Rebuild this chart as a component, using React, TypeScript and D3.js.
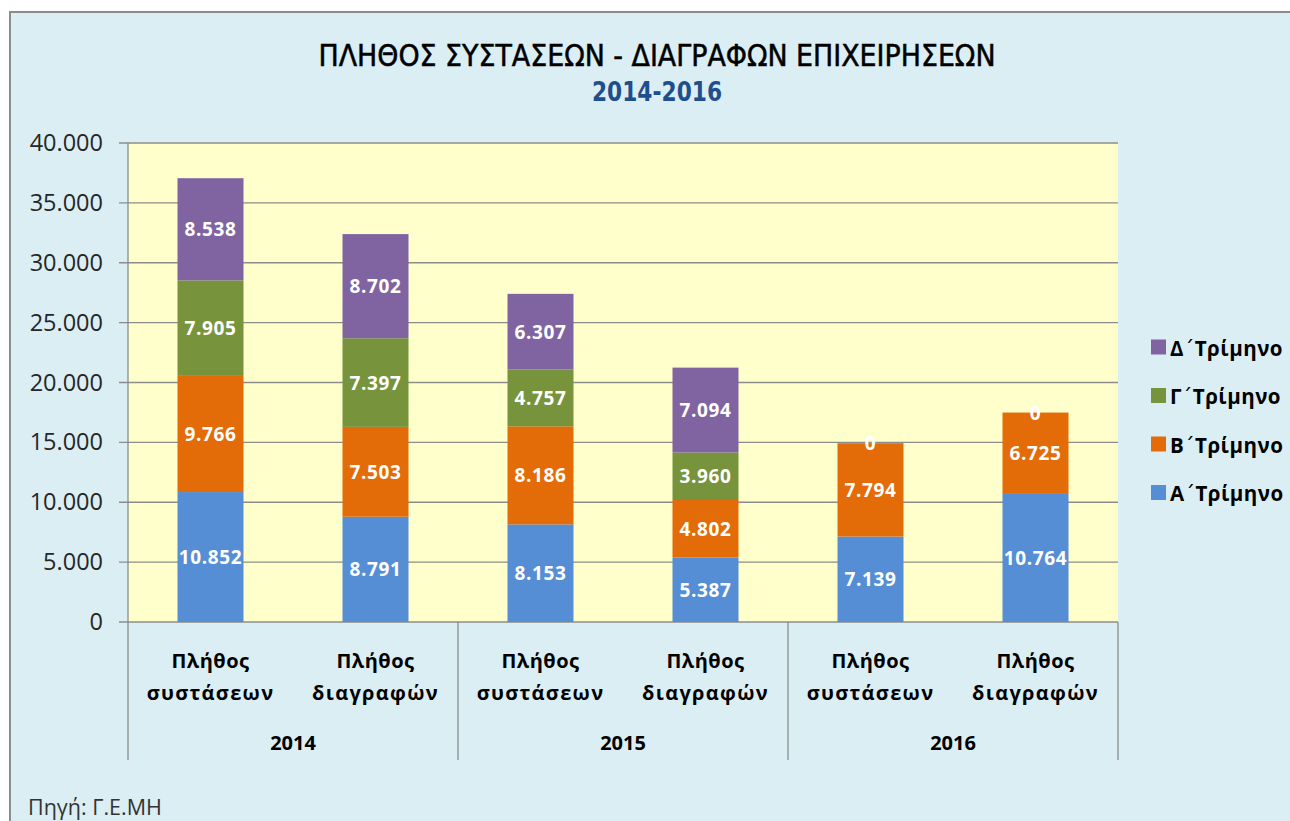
import React from "react";
import * as d3 from "d3";

const categories = ["Πλήθος συστάσεων", "Πλήθος διαγραφών", "Πλήθος συστάσεων", "Πλήθος διαγραφών", "Πλήθος συστάσεων", "Πλήθος διαγραφών"];
const years = ["2014", "2015", "2016"];
const seriesLetters = ["Α", "Β", "Γ", "Δ"];
const qA = [10852, 8791, 8153, 5387, 7139, 10764];
const qB = [9766, 7503, 8186, 4802, 7794, 6725];
const qC = [7905, 7397, 4757, 3960, 0, 0];
const qD: (number | null)[] = [8538, 8702, 6307, 7094, null, null];
const yTicks = [0, 5000, 10000, 15000, 20000, 25000, 30000, 35000, 40000];
const colors = ["#558ED5", "#E36C09", "#77933C", "#8064A2"];

const fmt = (v: number) => d3.format(",")(v).replace(/,/g, ".");

export default function App() {
  const W = 1290, H = 821;
  const left = 128, right = 1118, top = 143, bottom = 622;
  const y = d3.scaleLinear().domain([0, 40000]).range([bottom, top]);
  const x = d3.scaleBand().domain(d3.range(categories.length).map(String)).range([left, right]).paddingInner(0.6).paddingOuter(0.3);
  const groupW = (right - left) / years.length;
  const series = [qA, qB, qC, qD];
  const font = "'Open Sans', 'Noto Sans', sans-serif";
  const narrow = "'Liberation Sans Narrow', 'DejaVu Sans Condensed', sans-serif";

  const segs: any[] = [];
  categories.forEach((_, i) => {
    let base = 0;
    series.forEach((s, k) => {
      const v = s[i];
      if (v === null || v === undefined) return;
      segs.push({ i, k, y0: base, y1: base + v, v });
      base += v;
    });
  });

  return (
    <div style={{ position: "absolute", left: 0, top: 0 }}>
      <svg width={W} height={H} style={{ display: "block" }}>
        <rect x={0} y={0} width={W} height={H} fill="#ffffff" />
        <rect x={10} y={12} width={W + 20} height={H + 20} fill="#DBEEF4" stroke="#8C8C8C" strokeWidth={2} />
        <text x={657} y={66} textAnchor="middle" fontFamily={narrow} fontWeight="normal" fontSize={30} fill="#000" stroke="#000" strokeWidth={0.5} textLength={677} lengthAdjust="spacingAndGlyphs">ΠΛΗΘΟΣ ΣΥΣΤΑΣΕΩΝ - ΔΙΑΓΡΑΦΩΝ ΕΠΙΧΕΙΡΗΣΕΩΝ</text>
        <text x={657} y={101} textAnchor="middle" fontFamily={narrow} fontWeight="bold" fontSize={27} fill="#1F4E8C" textLength={130} lengthAdjust="spacingAndGlyphs">2014-2016</text>

        <rect x={left} y={top} width={right - left} height={bottom - top} fill="#FFFFCC" />
        {yTicks.map((t) => (
          <g key={t}>
            <line x1={left - 9} x2={right} y1={y(t)} y2={y(t)} stroke="#8C8C8C" strokeWidth={1.3} />
            <text x={103} y={y(t) + 8} textAnchor="end" fontFamily={font} fontSize={23.5} fill="#262626">{fmt(t)}</text>
          </g>
        ))}
        <line x1={left} x2={left} y1={top} y2={760} stroke="#8C8C8C" strokeWidth={1.3} />
        {years.map((yr, j) => (
          <g key={yr}>
            <line x1={left + groupW * (j + 1)} x2={left + groupW * (j + 1)} y1={bottom} y2={760} stroke="#8C8C8C" strokeWidth={1.3} />
            <text x={left + groupW * (j + 0.5)} y={750} textAnchor="middle" fontFamily={font} fontWeight="bold" fontSize={20} fill="#000">{yr}</text>
          </g>
        ))}
        {segs.map((s, idx) => (
          <rect key={idx} x={x(String(s.i))} width={x.bandwidth()} y={y(s.y1)} height={y(s.y0) - y(s.y1)} fill={colors[s.k]} />
        ))}
        {segs.map((s, idx) => (
          <text key={"l" + idx} x={(x(String(s.i)) as number) + x.bandwidth() / 2} y={(y(s.y0) + y(s.y1)) / 2 + 7} textAnchor="middle" fontFamily={font} fontWeight="bold" fontSize={19} letterSpacing={0.6} fill="#ffffff">{fmt(s.v)}</text>
        ))}
        {categories.map((c, i) => {
          const parts = c.split(" ");
          const cx = (x(String(i)) as number) + x.bandwidth() / 2;
          return (
            <g key={"c" + i}>
              <text x={cx} y={668} textAnchor="middle" fontFamily={font} fontWeight="bold" fontSize={20} letterSpacing={0.5} fill="#000">{parts[0]}</text>
              <text x={cx} y={700} textAnchor="middle" fontFamily={font} fontWeight="bold" fontSize={20} letterSpacing={1.3} fill="#000">{parts[1]}</text>
            </g>
          );
        })}
        {seriesLetters.map((n, k) => {
          const ly = 494 - k * 48.5;
          return (
            <g key={n}>
              <rect x={1151} y={ly - 9} width={15} height={15} fill={colors[k]} />
              <text x={1170} y={ly + 7} fontFamily={font} fontWeight="bold" fontSize={20.5} letterSpacing={0.5} fill="#000">
                {n}
                <tspan fontFamily="'DejaVu Sans', sans-serif" fontWeight="normal">΄</tspan>
                Τρίμηνο
              </text>
            </g>
          );
        })}
        <text x={28} y={815} fontFamily={font} fontSize={21.5} fill="#333">Πηγή: Γ.Ε.ΜΗ</text>
      </svg>
    </div>
  );
}
